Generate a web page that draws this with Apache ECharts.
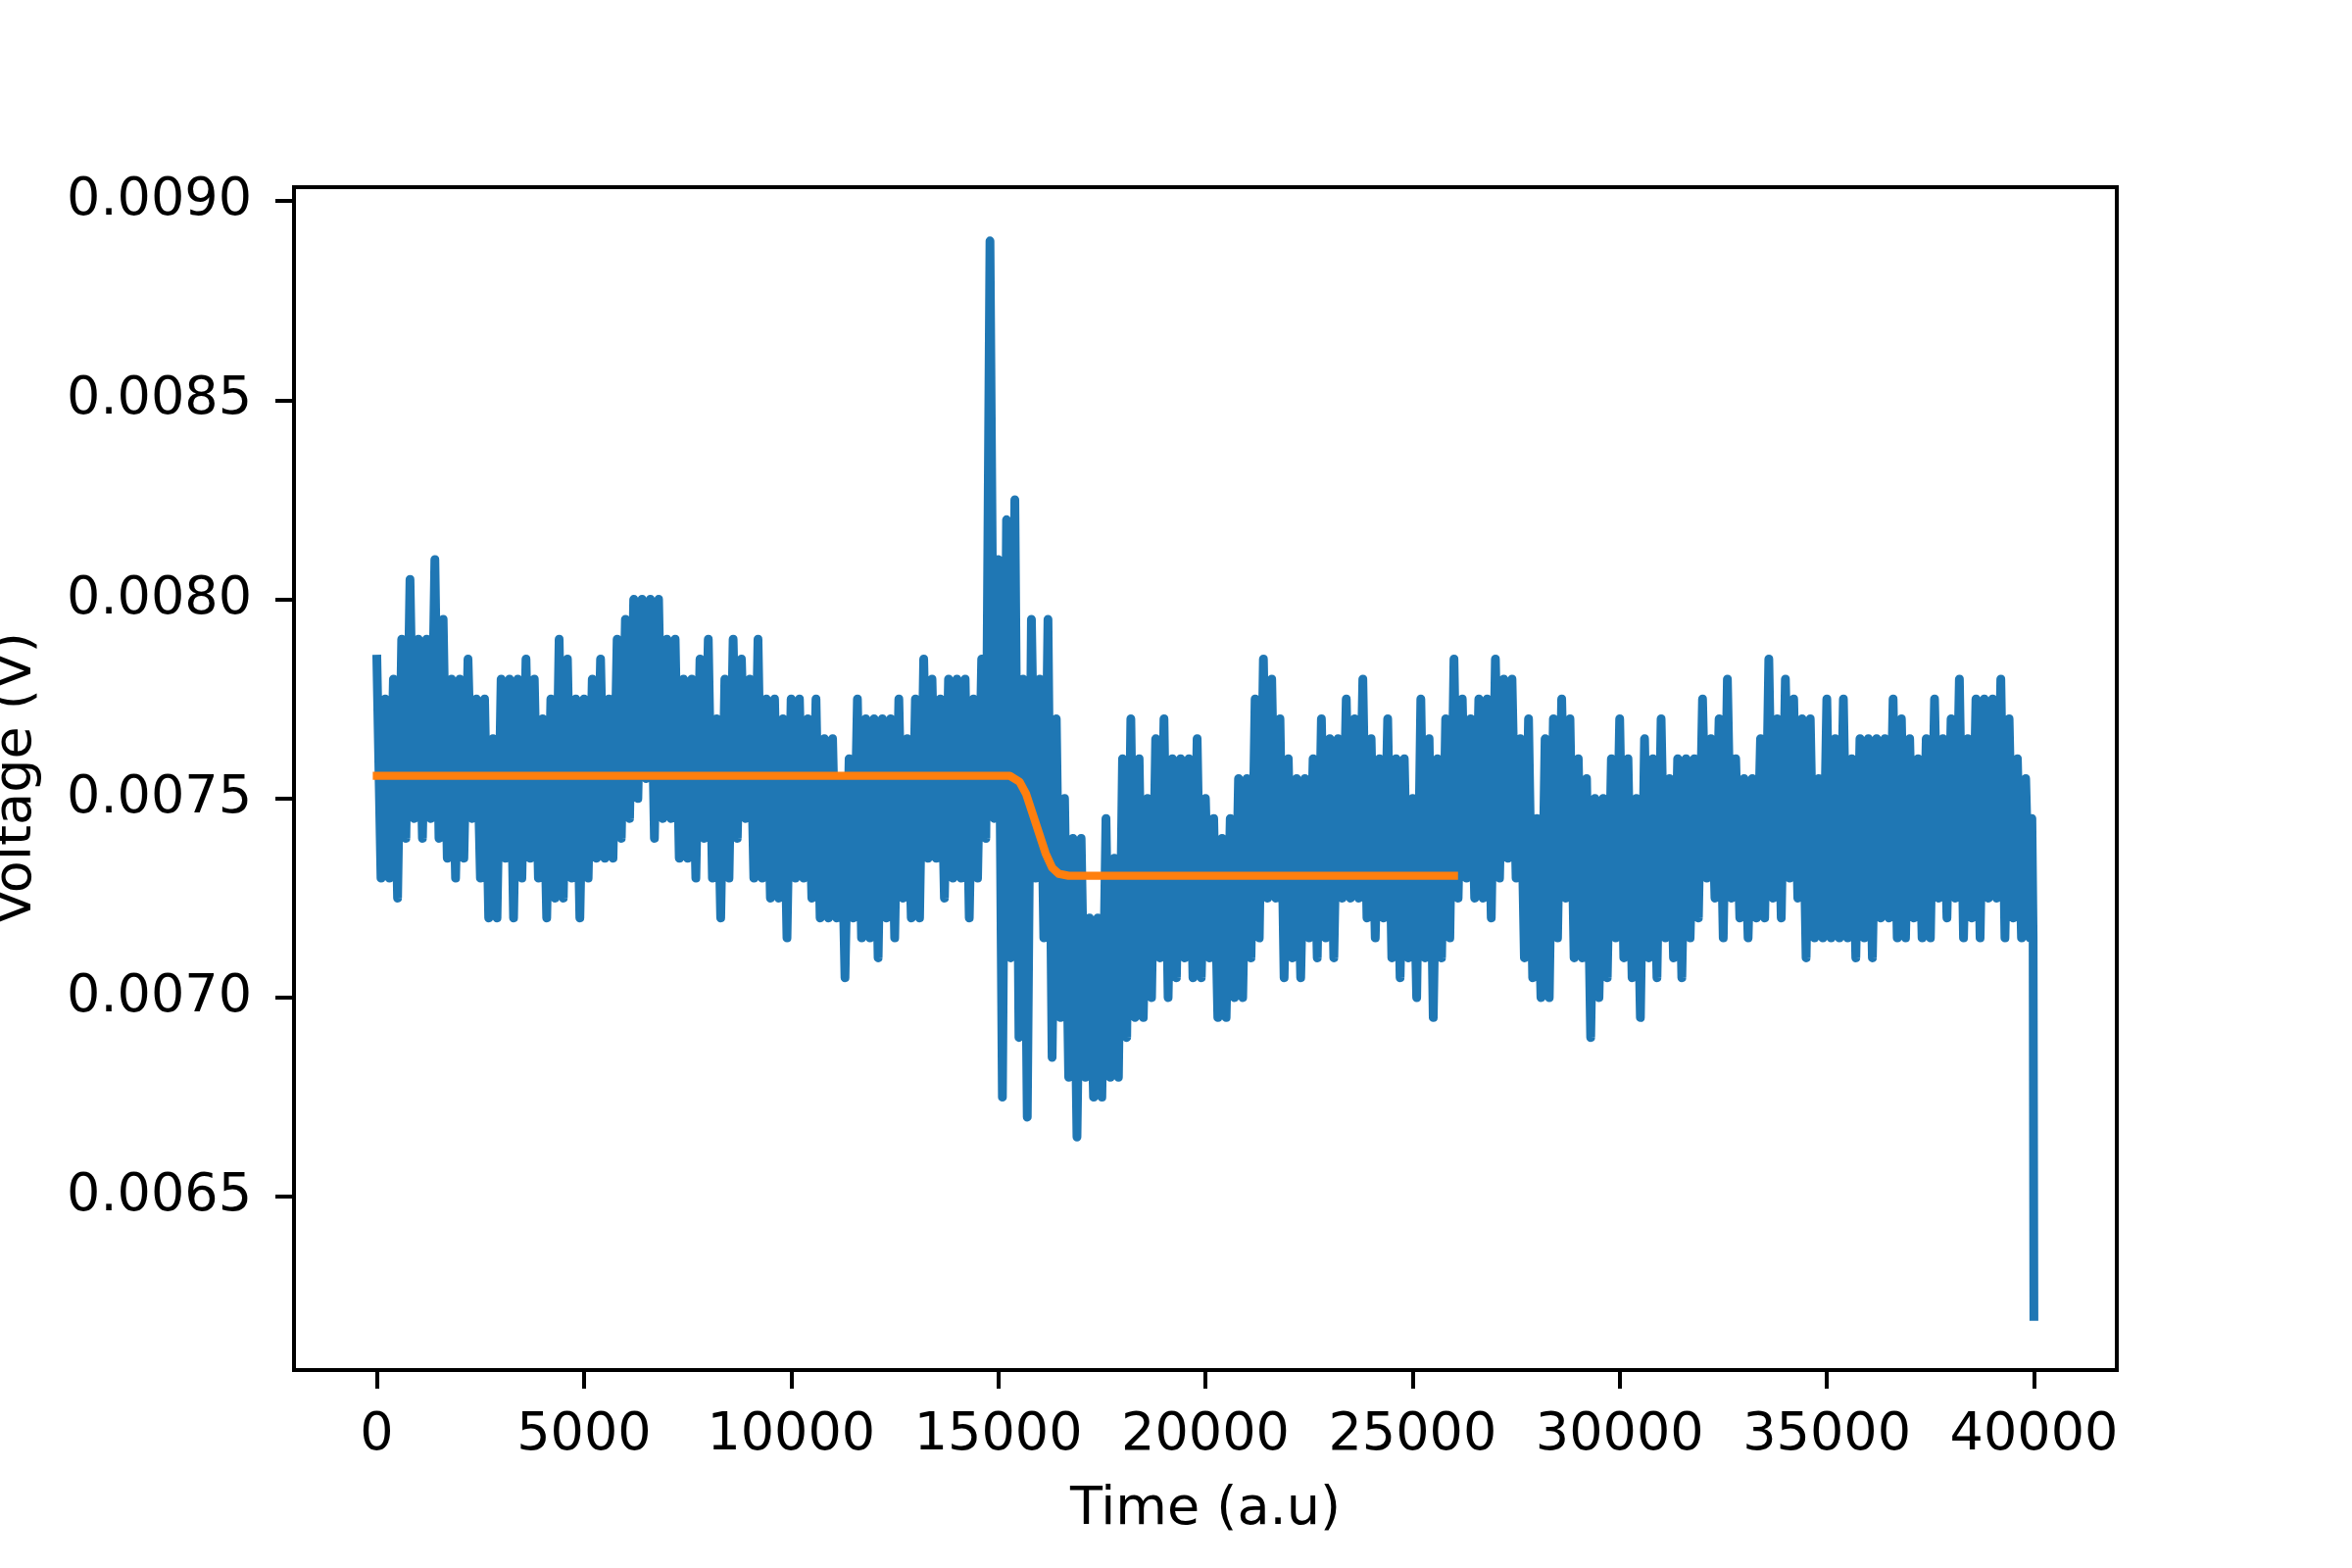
<!DOCTYPE html>
<html><head><meta charset="utf-8">
<script src="https://cdn.jsdelivr.net/npm/echarts@6/dist/echarts.min.js"></script>
<style>html,body{margin:0;padding:0;background:#fff}#c{width:2400px;height:1600px}</style>
</head><body><div id="c"></div>
<script>
// Signal: per 200-unit time bin, the highest and lowest voltage
const binWidth = 200;
const binHigh = [
0.00785,0.00775,0.0078,0.0079,0.00805,0.0079,0.0079,0.0081,0.00795,0.0078,
0.0078,0.00785,0.00775,0.00775,0.00765,0.0078,0.0078,0.0078,0.00785,0.0078,
0.0077,0.00775,0.0079,0.00785,0.00775,0.00775,0.0078,0.00785,0.00775,0.0079,
0.00795,0.008,0.008,0.008,0.008,0.0079,0.0079,0.0078,0.0078,0.00785,
0.0079,0.0077,0.0078,0.0079,0.00785,0.0078,0.0079,0.00775,0.00775,0.0077,
0.00775,0.00775,0.0077,0.00775,0.00765,0.00765,0.00755,0.0076,0.00775,0.0077,
0.0077,0.0077,0.0077,0.00775,0.00765,0.00775,0.00785,0.0078,0.00775,0.0078,
0.0078,0.0078,0.00775,0.00785,0.0089,0.0081,0.0082,0.00825,0.0078,0.00795,
0.0078,0.00795,0.0077,0.0075,0.0074,0.0074,0.0072,0.0072,0.00745,0.00735,
0.0076,0.0077,0.0076,0.0075,0.00765,0.0077,0.0076,0.0076,0.0076,0.00765,
0.0075,0.00745,0.0074,0.00745,0.00755,0.00755,0.00775,0.00785,0.0078,0.0077,
0.0076,0.00755,0.00755,0.0076,0.0077,0.00765,0.00765,0.00775,0.0077,0.0078,
0.00765,0.0076,0.0077,0.0076,0.0076,0.0075,0.00775,0.00765,0.0076,0.0077,
0.00785,0.00775,0.0077,0.00775,0.00775,0.00785,0.0078,0.0078,0.00765,0.0077,
0.00745,0.00765,0.0077,0.00775,0.0077,0.0076,0.00755,0.0075,0.0075,0.0076,
0.0077,0.0076,0.0075,0.00765,0.0076,0.0077,0.00755,0.0076,0.0076,0.0076,
0.00775,0.00765,0.0077,0.0078,0.0076,0.00755,0.00755,0.00765,0.00785,0.0077,
0.0078,0.00775,0.0077,0.0077,0.00755,0.00775,0.00765,0.00775,0.0076,0.00765,
0.00765,0.00765,0.00765,0.00775,0.0077,0.00765,0.0076,0.00765,0.00775,0.00765,
0.0077,0.0078,0.00765,0.00775,0.00775,0.00775,0.0078,0.0077,0.0076,0.00755
];
const binLow = [
0.0073,0.0073,0.00725,0.0074,0.00745,0.0074,0.00745,0.0074,0.00735,0.0073,
0.00735,0.00745,0.0073,0.0072,0.0072,0.00735,0.0072,0.0073,0.00735,0.0073,
0.0072,0.00725,0.00725,0.0073,0.0072,0.0073,0.00735,0.00735,0.00735,0.0074,
0.00745,0.0075,0.00755,0.0074,0.00745,0.00745,0.00735,0.00735,0.0073,0.0074,
0.0073,0.0072,0.0073,0.0074,0.00745,0.0073,0.0073,0.00725,0.00725,0.00715,
0.0073,0.0073,0.00725,0.0072,0.0072,0.0072,0.00705,0.0072,0.00715,0.00715,
0.0071,0.0072,0.00715,0.00725,0.0072,0.0072,0.00735,0.00735,0.00725,0.0073,
0.0073,0.0072,0.0073,0.0074,0.00745,0.00675,0.0071,0.0069,0.0067,0.0073,
0.00715,0.00685,0.00695,0.0068,0.00665,0.0068,0.00675,0.00675,0.0068,0.0068,
0.0069,0.00695,0.00695,0.007,0.0071,0.007,0.00705,0.0071,0.00705,0.00705,
0.0071,0.00695,0.00695,0.007,0.007,0.0071,0.00715,0.00725,0.00725,0.00705,
0.0071,0.00705,0.00715,0.0071,0.00715,0.0071,0.00725,0.00725,0.00725,0.0072,
0.00715,0.0072,0.0071,0.00705,0.0071,0.007,0.0071,0.00695,0.0071,0.00715,
0.00725,0.0073,0.00725,0.00725,0.0072,0.0073,0.00735,0.0073,0.0071,0.00705,
0.007,0.007,0.00715,0.00725,0.0071,0.0071,0.0069,0.007,0.00705,0.00715,
0.0071,0.00705,0.00695,0.0071,0.00705,0.00715,0.0071,0.00705,0.00715,0.0072,
0.0073,0.00725,0.00715,0.00725,0.0072,0.00715,0.0072,0.0072,0.00725,0.0072,
0.0073,0.00725,0.0071,0.00715,0.00715,0.00715,0.00715,0.00715,0.0071,0.00715,
0.0071,0.0072,0.0072,0.00715,0.00715,0.0072,0.00715,0.00715,0.00725,0.0072,
0.00725,0.00715,0.0072,0.00715,0.00725,0.00725,0.00715,0.0072,0.00715,0.00715
];
// final drop at the end of the record
const tailTime = [39950, 39980, 39999];
const tailVolt = [0.00745, 0.00715, 0.0062];
// fitted step curve (orange)
const fitTime = [0, 15277, 15514, 15671, 15829, 15987, 16144, 16302, 16460, 16696, 26000];
const fitVolt = [0.007557, 0.007557, 0.007542, 0.007512, 0.007462, 0.007412, 0.007362, 0.007326, 0.007311, 0.007306, 0.007306];
// axis ticks
const xTicks = [0, 5000, 10000, 15000, 20000, 25000, 30000, 35000, 40000];
const yTicks = [0.0065, 0.0070, 0.0075, 0.0080, 0.0085, 0.0090];

const signal = [];
for (let i = 0; i < binHigh.length; i++) {
  signal.push([i * binWidth, binHigh[i]]);
  signal.push([i * binWidth + binWidth / 2, binLow[i]]);
}
for (let i = 0; i < tailTime.length; i++) signal.push([tailTime[i], tailVolt[i]]);
const fit = fitTime.map((t, i) => [t, fitVolt[i]]);

const FONT = 'DejaVu Sans';
const FS = 54;
const chart = echarts.init(document.getElementById('c'), null, {renderer: 'canvas'});
chart.setOption({
  animation: false,
  backgroundColor: '#ffffff',
  grid: {left: 300, right: 240, top: 191, bottom: 202, containLabel: false, outerBoundsMode: 'none',
         show: true, borderColor: '#000', borderWidth: 4, backgroundColor: 'transparent'},
  xAxis: {
    type: 'value', min: -2000, max: 42000,
    name: 'Time (a.u)', nameLocation: 'middle', nameGap: 116,
    nameTextStyle: {fontFamily: FONT, fontSize: FS, color: '#000'},
    splitLine: {show: false},
    axisLine: {show: true, onZero: false, lineStyle: {color: '#000', width: 4}},
    axisTick: {show: true, length: 19, lineStyle: {color: '#000', width: 4}, customValues: xTicks},
    axisLabel: {fontFamily: FONT, fontSize: FS, color: '#000', margin: 40, customValues: xTicks,
      formatter: v => String(v)}
  },
  yAxis: {
    type: 'value', min: 0.006065, max: 0.009035,
    name: 'Voltage (V)', nameLocation: 'middle', nameRotate: 90, nameGap: 256,
    nameTextStyle: {fontFamily: FONT, fontSize: FS, color: '#000'},
    splitLine: {show: false},
    axisLine: {show: true, onZero: false, lineStyle: {color: '#000', width: 4}},
    axisTick: {show: true, length: 19, lineStyle: {color: '#000', width: 4}, customValues: yTicks},
    axisLabel: {fontFamily: FONT, fontSize: FS, color: '#000', margin: 43, customValues: yTicks,
      formatter: v => v.toFixed(4)}
  },
  series: [
    {type: 'line', data: signal, showSymbol: false, smooth: false, z: 2,
     lineStyle: {color: '#1f77b4', width: 9, join: 'round', cap: 'square'}},
    {type: 'line', data: fit, showSymbol: false, smooth: false, z: 3,
     lineStyle: {color: '#ff7f0e', width: 8.3, join: 'round', cap: 'square'}}
  ]
});
</script></body></html>
